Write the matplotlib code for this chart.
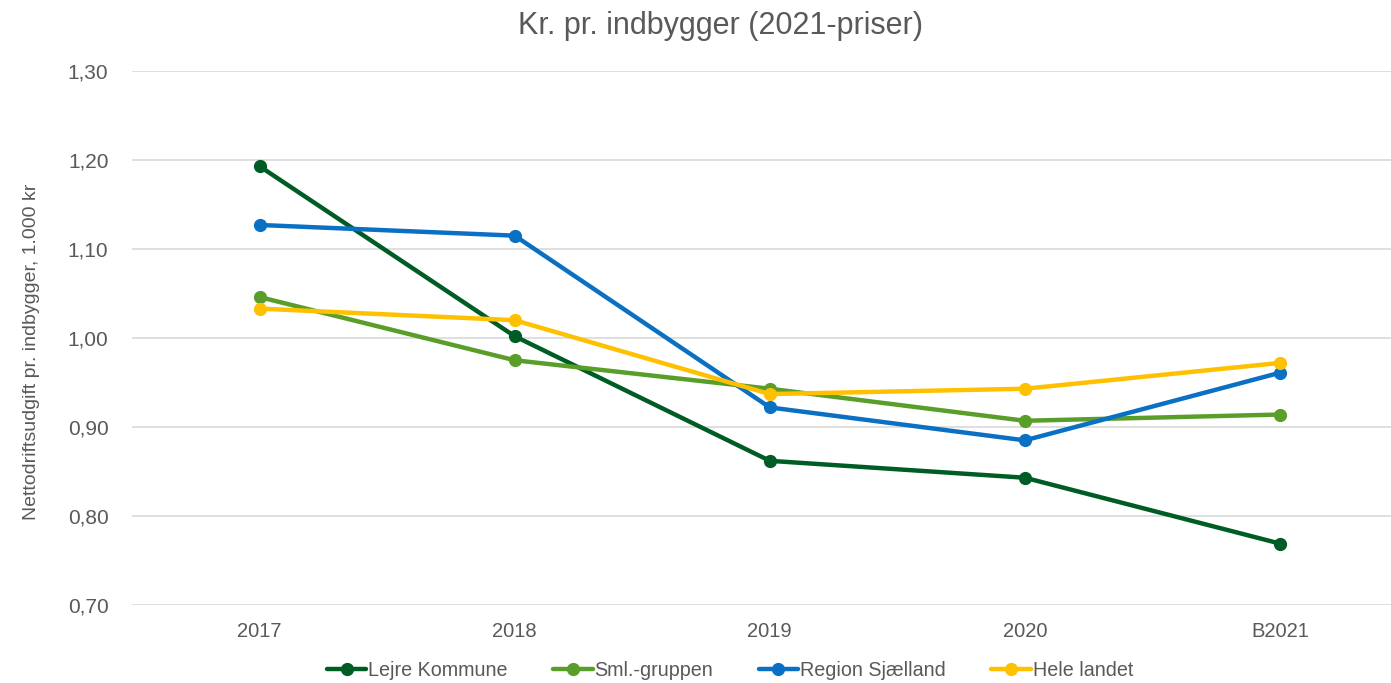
import matplotlib.pyplot as plt

plt.rcParams['font.family'] = ['Liberation Sans', 'DejaVu Sans']

years = ["2017", "2018", "2019", "2020", "B2021"]

lejre = [1.193, 1.002, 0.862, 0.843, 0.769]
sml = [1.046, 0.975, 0.943, 0.907, 0.914]
region = [1.127, 1.115, 0.922, 0.885, 0.961]
hele = [1.033, 1.020, 0.937, 0.943, 0.972]

series = [
    ("Lejre Kommune", lejre, "#005C25"),
    ("Sml.-gruppen", sml, "#5A9E2A"),
    ("Region Sjælland", region, "#0A70C4"),
    ("Hele landet", hele, "#FFC000"),
]

txt = "#595959"

fig = plt.figure(figsize=(13.91, 6.83), dpi=100)
ax = fig.add_axes([132 / 1391, 1 - 605 / 683, 1 - 132 / 1391, (605 - 71) / 683])

x = list(range(len(years)))
for name, vals, col in series:
    ax.plot(x, vals, color=col, lw=3.2, marker="o", ms=8.5, label=name,
            solid_capstyle="round")

ax.set_ylim(0.70, 1.30)
ax.set_xlim(-0.5, 4.435)
ax.set_yticks([0.70, 0.80, 0.90, 1.00, 1.10, 1.20, 1.30])
ax.set_yticklabels([f"{v:.2f}".replace(".", ",") for v in ax.get_yticks()])
ax.set_xticks(x)
ax.set_xticklabels(years)
ax.tick_params(axis="y", length=0, colors=txt, labelsize=15, pad=17)
ax.tick_params(axis="x", length=0, colors=txt, labelsize=14.5, pad=12)
ax.grid(axis="y", color="#D9D9D9", lw=1.2)
ax.set_axisbelow(True)
for s in ax.spines.values():
    s.set_visible(False)

ax.set_ylabel("Nettodriftsudgift pr. indbygger, 1.000 kr", color=txt, fontsize=14)
ax.yaxis.set_label_coords(-92 / 1259, (605 - 352) / 534)
fig.text(720 / 1391, 1 - 26 / 683, "Kr. pr. indbygger (2021-priser)", ha="center", va="center",
         color=txt, fontsize=22)

fig.legend(loc="center", bbox_to_anchor=(730 / 1391, 1 - 670 / 683), ncol=4, frameon=False,
           fontsize=14.2, labelcolor=txt, handlelength=2.0, handletextpad=0.1, columnspacing=2.3)

fig.savefig("out.png", dpi=100)
